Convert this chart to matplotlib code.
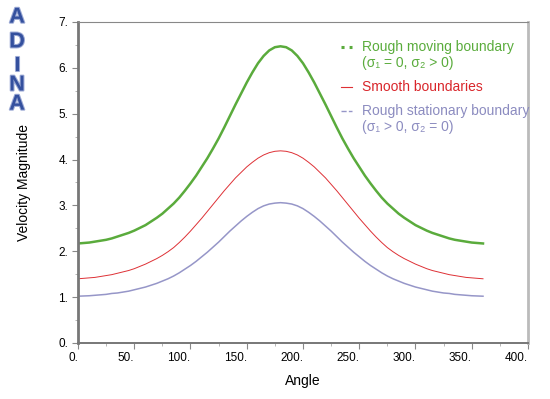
import matplotlib
matplotlib.use("Agg")
import matplotlib.pyplot as plt
import matplotlib.patheffects as pe
import numpy as np

plt.rcParams["font.family"] = ["Liberation Sans", "DejaVu Sans"]

# values, every 5 degrees
angle = list(range(0, 361, 5))
rough_moving = [2.17, 2.18, 2.19, 2.21, 2.23, 2.25, 2.28, 2.32, 2.36, 2.40,
                2.45, 2.51, 2.57, 2.65, 2.73, 2.82, 2.93, 3.04, 3.17, 3.32,
                3.48, 3.65, 3.84, 4.03, 4.24, 4.46, 4.70, 4.95, 5.20, 5.44,
                5.68, 5.90, 6.10, 6.26, 6.38, 6.45, 6.47,
                6.45, 6.38, 6.26, 6.10, 5.90, 5.68, 5.44, 5.20, 4.95, 4.70,
                4.46, 4.24, 4.03, 3.84, 3.65, 3.48, 3.32, 3.17, 3.04, 2.93,
                2.82, 2.73, 2.65, 2.57, 2.51, 2.45, 2.40, 2.36, 2.32, 2.28,
                2.25, 2.23, 2.21, 2.19, 2.18, 2.17]
smooth = [1.40, 1.41, 1.42, 1.43, 1.45, 1.47, 1.49, 1.52, 1.55, 1.58,
          1.62, 1.67, 1.72, 1.78, 1.84, 1.91, 1.99, 2.08, 2.19, 2.31,
          2.44, 2.58, 2.72, 2.87, 3.02, 3.17, 3.32, 3.46, 3.60, 3.72,
          3.84, 3.94, 4.03, 4.10, 4.15, 4.18, 4.19,
          4.18, 4.15, 4.10, 4.03, 3.94, 3.84, 3.72, 3.60, 3.46, 3.32,
          3.17, 3.02, 2.87, 2.72, 2.58, 2.44, 2.31, 2.19, 2.08, 1.99,
          1.91, 1.84, 1.78, 1.72, 1.67, 1.62, 1.58, 1.55, 1.52, 1.49,
          1.47, 1.45, 1.43, 1.42, 1.41, 1.40]
rough_stationary = [1.02, 1.025, 1.03, 1.04, 1.05, 1.06, 1.08, 1.09, 1.11, 1.13,
                    1.16, 1.19, 1.22, 1.26, 1.30, 1.35, 1.40, 1.46, 1.53, 1.61,
                    1.69, 1.78, 1.88, 1.98, 2.09, 2.20, 2.32, 2.44, 2.55, 2.66,
                    2.76, 2.85, 2.93, 2.99, 3.03, 3.05, 3.06,
                    3.05, 3.03, 2.99, 2.93, 2.85, 2.76, 2.66, 2.55, 2.44, 2.32,
                    2.20, 2.09, 1.98, 1.88, 1.78, 1.69, 1.61, 1.53, 1.46, 1.40,
                    1.35, 1.30, 1.26, 1.22, 1.19, 1.16, 1.13, 1.11, 1.09, 1.08,
                    1.06, 1.05, 1.04, 1.03, 1.025, 1.02]

xticks = [0, 50, 100, 150, 200, 250, 300, 350, 400]
yticks = [0, 1, 2, 3, 4, 5, 6, 7]

green = "#5aab3c"
red = "#de3035"
purple = "#9696c8"

fig = plt.figure(figsize=(5.5, 3.99), dpi=100)
ax = fig.add_axes([0.1418, 0.1404, 0.8182, 0.8045])

ax.plot(angle, rough_moving, color=green, lw=1.8)
ax.plot(angle, smooth, color=red, lw=0.7)
ax.plot(angle, rough_stationary, color=purple, lw=1.1)

ax.set_xlim(0, 400)
ax.set_ylim(0, 7)
ax.set_xticks(xticks)
ax.set_xticklabels([f"{t}." for t in xticks], ha="right")
ax.set_yticks(yticks)
ax.set_yticklabels([f"{t}." for t in yticks])
ax.set_xticks(np.arange(25, 400, 50), minor=True)
ax.set_yticks(np.arange(0.5, 7, 1), minor=True)
ax.tick_params(which="major", length=4, color="#888888", labelsize=8.5, pad=3)
ax.tick_params(axis="x", which="major", pad=2.5)
ax.tick_params(which="minor", length=2, color="#aaaaaa")

ax.spines["left"].set_color("#777777")
ax.spines["left"].set_linewidth(2)
ax.spines["bottom"].set_color("#777777")
ax.spines["bottom"].set_linewidth(1.4)
ax.spines["top"].set_color("#888888")
ax.spines["top"].set_linewidth(0.8)
ax.spines["right"].set_color("#bbbbbb")
ax.spines["right"].set_linewidth(2)

ax.set_xlabel("Angle", fontsize=10, labelpad=7)
ax.set_ylabel("Velocity Magnitude", fontsize=10, labelpad=20)

# legend drawn as text, with short keys
entries = [
    ("Rough moving boundary", "(σ₁ = 0, σ₂ > 0)", green, "#5aac3c", ":", 2.2),
    ("Smooth boundaries", None, red, "#d9262b", "-", 0.8),
    ("Rough stationary boundary", "(σ₁ > 0, σ₂ = 0)", purple, "#8c8cc0", "--", 1.0),
]
ys = [0.923, 0.798, 0.723]
for (lab, sub, lc, tc, ls, lw), y in zip(entries, ys):
    ax.plot([0.584, 0.608], [y, y], transform=ax.transAxes, color=lc, ls=ls, lw=lw)
    ax.text(0.631, y, lab, transform=ax.transAxes, color=tc, fontsize=10, va="center")
    if sub:
        ax.text(0.631, y - 0.051, sub, transform=ax.transAxes, color=tc,
                fontsize=10, va="center")

# ADINA logo
for ch, y in zip("ADINA", [0.957, 0.895, 0.835, 0.787, 0.739]):
    fig.text(0.031, y, ch, fontsize=15.5, fontweight="bold", color="#34509e",
             ha="center", va="center",
             path_effects=[pe.withStroke(linewidth=1.5, foreground="#9aa8d4")])

fig.savefig("out.png", dpi=100)
